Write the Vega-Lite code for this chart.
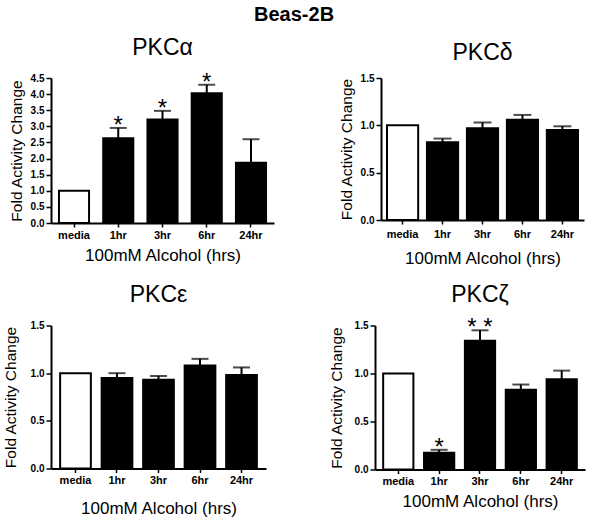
{
  "$schema": "https://vega.github.io/schema/vega-lite/v6.json",
  "padding": {"left": 3, "top": 5, "right": 5, "bottom": 5},
  "background": "white",
  "title": {"text": "Beas-2B", "fontSize": 20, "fontWeight": "bold", "font": "Liberation Sans", "anchor": "middle", "offset": 12, "color": "black"},
  "datasets": {
    "pkc": [
      {"panel": "PKCα", "time": "media", "value": 1.0},
      {"panel": "PKCα", "time": "1hr", "value": 2.63, "upper": 2.95, "sig": "*"},
      {"panel": "PKCα", "time": "3hr", "value": 3.21, "upper": 3.48, "sig": "*"},
      {"panel": "PKCα", "time": "6hr", "value": 4.03, "upper": 4.29, "sig": "*"},
      {"panel": "PKCα", "time": "24hr", "value": 1.87, "upper": 2.6},
      {"panel": "PKCδ", "time": "media", "value": 1.0},
      {"panel": "PKCδ", "time": "1hr", "value": 0.82, "upper": 0.86},
      {"panel": "PKCδ", "time": "3hr", "value": 0.97, "upper": 1.03},
      {"panel": "PKCδ", "time": "6hr", "value": 1.06, "upper": 1.11},
      {"panel": "PKCδ", "time": "24hr", "value": 0.95, "upper": 0.99},
      {"panel": "PKCε", "time": "media", "value": 1.0},
      {"panel": "PKCε", "time": "1hr", "value": 0.95, "upper": 1.0},
      {"panel": "PKCε", "time": "3hr", "value": 0.93, "upper": 0.97},
      {"panel": "PKCε", "time": "6hr", "value": 1.08, "upper": 1.15},
      {"panel": "PKCε", "time": "24hr", "value": 0.98, "upper": 1.06},
      {"panel": "PKCζ", "time": "media", "value": 1.0},
      {"panel": "PKCζ", "time": "1hr", "value": 0.175, "upper": 0.205, "sig": "*"},
      {"panel": "PKCζ", "time": "3hr", "value": 1.34, "upper": 1.45, "sig": "* *"},
      {"panel": "PKCζ", "time": "6hr", "value": 0.83, "upper": 0.885},
      {"panel": "PKCζ", "time": "24hr", "value": 0.94, "upper": 1.03}
    ]
  },
  "config": {
    "font": "Liberation Sans",
    "view": {"stroke": null},
    "axis": {"domainColor": "black", "domainWidth": 2, "tickColor": "black", "tickWidth": 1.5, "labelColor": "black", "titleColor": "black", "labelFont": "Liberation Sans", "titleFont": "Liberation Sans", "labelFontWeight": "bold", "titleFontWeight": "normal", "grid": false},
    "axisX": {"labelAngle": 0, "labelFontSize": 11, "tickSize": 4, "labelPadding": 2, "titleFontSize": 17},
    "axisY": {"labelFontSize": 10, "tickSize": 5, "labelPadding": 2, "titleFontSize": 15.5, "format": ".1f", "labelOverlap": false},
    "title": {"font": "Liberation Sans", "fontSize": 23, "fontWeight": "normal", "color": "black", "anchor": "middle"}
  },
  "spacing": 17.5,
  "vconcat": [
    {
      "spacing": 65,
      "hconcat": [
        {
          "width": 223, "height": 145,
          "title": {"text": "PKCα", "offset": 10.5},
          "data": {"name": "pkc"},
          "transform": [{"filter": "datum.panel === 'PKCα'"}],
          "encoding": {"x": {"field": "time", "type": "nominal", "sort": ["media", "1hr", "3hr", "6hr", "24hr"], "scale": {"paddingInner": 0.32, "paddingOuter": 0.18}, "axis": {"title": "100mM Alcohol (hrs)", "titlePadding": 7}}},
          "layer": [
            {"mark": {"type": "bar", "stroke": "black", "strokeWidth": 2}, "encoding": {"y": {"field": "value", "type": "quantitative", "scale": {"domain": [0, 4.5], "nice": false}, "axis": {"title": "Fold Activity Change", "values": [0, 0.5, 1, 1.5, 2, 2.5, 3, 3.5, 4, 4.5], "titlePadding": 6}}, "fill": {"condition": {"test": "datum.time === 'media'", "value": "white"}, "value": "black"}}},
            {"transform": [{"filter": "isValid(datum.upper)"}], "mark": {"type": "rule", "strokeWidth": 2, "color": "black"}, "encoding": {"y": {"field": "value", "type": "quantitative", "axis": {"title": "Fold Activity Change", "values": [0, 0.5, 1, 1.5, 2, 2.5, 3, 3.5, 4, 4.5], "titlePadding": 6}}, "y2": {"field": "upper"}}},
            {"transform": [{"filter": "isValid(datum.upper)"}], "mark": {"type": "tick", "thickness": 2, "size": 17, "color": "black"}, "encoding": {"y": {"field": "upper", "type": "quantitative", "axis": {"title": "Fold Activity Change", "values": [0, 0.5, 1, 1.5, 2, 2.5, 3, 3.5, 4, 4.5], "titlePadding": 6}}}},
            {"transform": [{"filter": "isValid(datum.sig)"}], "mark": {"type": "text", "fontSize": 24, "baseline": "alphabetic", "dy": 5, "color": "black"}, "encoding": {"y": {"field": "upper", "type": "quantitative", "axis": {"title": "Fold Activity Change", "values": [0, 0.5, 1, 1.5, 2, 2.5, 3, 3.5, 4, 4.5], "titlePadding": 6}}, "text": {"field": "sig"}}}
          ]
        },
        {
          "width": 203, "height": 142,
          "title": {"text": "PKCδ", "offset": 8},
          "data": {"name": "pkc"},
          "transform": [{"filter": "datum.panel === 'PKCδ'"}],
          "encoding": {"x": {"field": "time", "type": "nominal", "sort": ["media", "1hr", "3hr", "6hr", "24hr"], "scale": {"paddingInner": 0.22, "paddingOuter": 0.15}, "axis": {"title": "100mM Alcohol (hrs)", "titlePadding": 11, "labelPadding": 4}}},
          "layer": [
            {"mark": {"type": "bar", "stroke": "black", "strokeWidth": 2}, "encoding": {"y": {"field": "value", "type": "quantitative", "scale": {"domain": [0, 1.5], "nice": false}, "axis": {"title": "Fold Activity Change", "values": [0, 0.5, 1, 1.5], "titlePadding": 6}}, "fill": {"condition": {"test": "datum.time === 'media'", "value": "white"}, "value": "black"}}},
            {"transform": [{"filter": "isValid(datum.upper)"}], "mark": {"type": "rule", "strokeWidth": 2, "color": "black"}, "encoding": {"y": {"field": "value", "type": "quantitative", "axis": {"title": "Fold Activity Change", "values": [0, 0.5, 1, 1.5], "titlePadding": 6}}, "y2": {"field": "upper"}}},
            {"transform": [{"filter": "isValid(datum.upper)"}], "mark": {"type": "tick", "thickness": 2, "size": 18, "color": "black"}, "encoding": {"y": {"field": "upper", "type": "quantitative", "axis": {"title": "Fold Activity Change", "values": [0, 0.5, 1, 1.5], "titlePadding": 6}}}}
          ]
        }
      ]
    },
    {
      "spacing": 63,
      "hconcat": [
        {
          "width": 215, "height": 143,
          "title": {"text": "PKCε", "offset": 13.5},
          "data": {"name": "pkc"},
          "transform": [{"filter": "datum.panel === 'PKCε'"}],
          "encoding": {"x": {"field": "time", "type": "nominal", "sort": ["media", "1hr", "3hr", "6hr", "24hr"], "scale": {"paddingInner": 0.26, "paddingOuter": 0.22}, "axis": {"title": "100mM Alcohol (hrs)", "titlePadding": 15}}},
          "layer": [
            {"mark": {"type": "bar", "stroke": "black", "strokeWidth": 2}, "encoding": {"y": {"field": "value", "type": "quantitative", "scale": {"domain": [0, 1.5], "nice": false}, "axis": {"title": "Fold Activity Change", "values": [0, 0.5, 1, 1.5], "titlePadding": 12}}, "fill": {"condition": {"test": "datum.time === 'media'", "value": "white"}, "value": "black"}}},
            {"transform": [{"filter": "isValid(datum.upper)"}], "mark": {"type": "rule", "strokeWidth": 2, "color": "black"}, "encoding": {"y": {"field": "value", "type": "quantitative", "axis": {"title": "Fold Activity Change", "values": [0, 0.5, 1, 1.5], "titlePadding": 12}}, "y2": {"field": "upper"}}},
            {"transform": [{"filter": "isValid(datum.upper)"}], "mark": {"type": "tick", "thickness": 2, "size": 17, "color": "black"}, "encoding": {"y": {"field": "upper", "type": "quantitative", "axis": {"title": "Fold Activity Change", "values": [0, 0.5, 1, 1.5], "titlePadding": 12}}}}
          ]
        },
        {
          "width": 210, "height": 144,
          "title": {"text": "PKCζ", "offset": 9},
          "data": {"name": "pkc"},
          "transform": [{"filter": "datum.panel === 'PKCζ'"}],
          "encoding": {"x": {"field": "time", "type": "nominal", "sort": ["media", "1hr", "3hr", "6hr", "24hr"], "scale": {"paddingInner": 0.26, "paddingOuter": 0.2}, "axis": {"title": "100mM Alcohol (hrs)", "titlePadding": 7}}},
          "layer": [
            {"mark": {"type": "bar", "stroke": "black", "strokeWidth": 2}, "encoding": {"y": {"field": "value", "type": "quantitative", "scale": {"domain": [0, 1.5], "nice": false}, "axis": {"title": "Fold Activity Change", "values": [0, 0.5, 1, 1.5], "titlePadding": 10}}, "fill": {"condition": {"test": "datum.time === 'media'", "value": "white"}, "value": "black"}}},
            {"transform": [{"filter": "isValid(datum.upper)"}], "mark": {"type": "rule", "strokeWidth": 2, "color": "black"}, "encoding": {"y": {"field": "value", "type": "quantitative", "axis": {"title": "Fold Activity Change", "values": [0, 0.5, 1, 1.5], "titlePadding": 10}}, "y2": {"field": "upper"}}},
            {"transform": [{"filter": "isValid(datum.upper)"}], "mark": {"type": "tick", "thickness": 2, "size": 17, "color": "black"}, "encoding": {"y": {"field": "upper", "type": "quantitative", "axis": {"title": "Fold Activity Change", "values": [0, 0.5, 1, 1.5], "titlePadding": 10}}}},
            {"transform": [{"filter": "isValid(datum.sig)"}], "mark": {"type": "text", "fontSize": 24, "baseline": "alphabetic", "dy": 5, "color": "black"}, "encoding": {"y": {"field": "upper", "type": "quantitative", "axis": {"title": "Fold Activity Change", "values": [0, 0.5, 1, 1.5], "titlePadding": 10}}, "text": {"field": "sig"}}}
          ]
        }
      ]
    }
  ]
}
